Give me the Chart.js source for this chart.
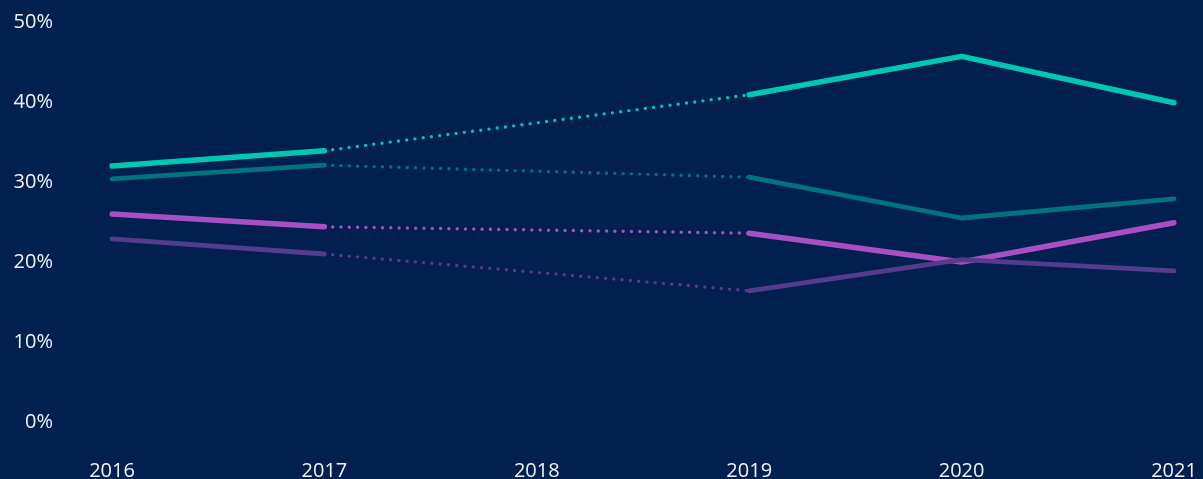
<!DOCTYPE html>
<html>
<head>
<meta charset="utf-8">
<script src="https://cdn.jsdelivr.net/npm/chart.js@4/dist/chart.umd.min.js"></script>
<style>
  html, body { margin: 0; padding: 0; background: #011f4f; }
  #wrap { width: 1203px; height: 479px; position: relative; }
</style>
</head>
<body>
<div id="wrap"><canvas id="trend"></canvas></div>
<script>
// years on the x axis; 2018 has no survey value, so it is bridged with dots
var years = ['2016', '2017', '2018', '2019', '2020', '2021'];
var yTicks = [0, 10, 20, 30, 40, 50];

var seriesTeal       = [32.0, 33.9, null, 40.9, 45.7, 39.9];
var seriesDarkTeal   = [30.4, 32.1, null, 30.6, 25.5, 27.9];
var seriesMagenta    = [26.0, 24.4, null, 23.6, 20.0, 24.9];
var seriesPurple     = [22.9, 21.0, null, 16.4, 20.3, 18.9];

// a segment touching the missing year is drawn as round dots
function gap(ctx, value) {
    return ctx.p0.skip || ctx.p1.skip ? value : undefined;
}

function makeLine(data, color, width) {
    return {
        data: data,
        borderColor: color,
        borderWidth: width,
        borderCapStyle: 'round',
        borderJoinStyle: 'round',
        pointRadius: 0,
        pointHoverRadius: 0,
        tension: 0,
        spanGaps: true,
        segment: {
            borderDash: function(ctx) { return gap(ctx, [0, 8.3]); },
            borderWidth: function(ctx) { return gap(ctx, 3.4); }
        }
    };
}

var tickFont = { family: '"Open Sans", Lato, sans-serif', size: 20 };

new Chart(document.getElementById('trend'), {
    type: 'line',
    data: {
        labels: years,
        datasets: [
            makeLine(seriesPurple, '#553b8b', 4.8),
            makeLine(seriesMagenta, '#a84fc1', 5.5),
            makeLine(seriesDarkTeal, '#00737e', 4.8),
            makeLine(seriesTeal, '#00c7b1', 5.5)
        ]
    },
    options: {
        responsive: true,
        maintainAspectRatio: false,
        animation: false,
        layout: { padding: { top: 22, right: 29, left: 0, bottom: 0 } },
        plugins: {
            legend: { display: false },
            tooltip: { enabled: false }
        },
        scales: {
            x: {
                offset: false,
                grid: { display: false, drawTicks: false },
                border: { display: false },
                ticks: {
                    color: '#f0f3f8',
                    font: tickFont,
                    padding: 37,
                    maxRotation: 0,
                    autoSkip: false
                },
                // keep the label padding from shrinking the plot sideways
                afterFit: function(scale) {
                    scale.height = 57;
                    scale.paddingLeft = 0;
                    scale.paddingRight = 0;
                }
            },
            y: {
                min: 0,
                max: 50,
                grid: { display: false, drawTicks: false },
                border: { display: false },
                afterBuildTicks: function(scale) {
                    scale.ticks = yTicks.map(function(v) { return { value: v }; });
                },
                ticks: {
                    color: '#f0f3f8',
                    font: tickFont,
                    padding: 59,
                    callback: function(v) { return v + '%'; }
                },
                afterFit: function(scale) {
                    scale.width = 112;
                    scale.paddingTop = 0;
                    scale.paddingBottom = 0;
                }
            }
        }
    }
});
</script>
</body>
</html>
